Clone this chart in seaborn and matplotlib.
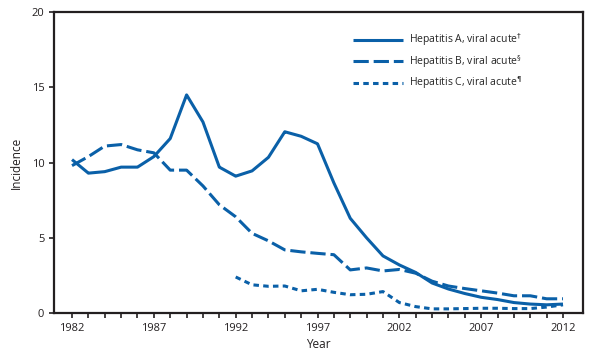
import numpy as np
import pandas as pd
import matplotlib
matplotlib.use("Agg")
import matplotlib.pyplot as plt
import seaborn as sns

# ================= DATA =================
years = list(range(1982, 2013))
hep_a = [10.2, 9.3, 9.4, 9.7, 9.7, 10.4, 11.6, 14.5, 12.7, 9.7,
         9.1, 9.45, 10.35, 12.05, 11.75, 11.25, 8.65, 6.3, 5.0, 3.8,
         3.2, 2.7, 2.0, 1.6, 1.3, 1.05, 0.9, 0.7, 0.6, 0.55, 0.6]
hep_b = [9.8, 10.4, 11.1, 11.2, 10.85, 10.65, 9.5, 9.5, 8.45, 7.2,
         6.4, 5.3, 4.8, 4.2, 4.07, 3.97, 3.88, 2.87, 3.0, 2.8,
         2.9, 2.65, 2.12, 1.8, 1.63, 1.48, 1.33, 1.15, 1.15, 0.95, 0.95]
hep_c_years = list(range(1992, 2013))
hep_c = [2.4, 1.88, 1.78, 1.8, 1.48, 1.58, 1.38, 1.22, 1.25, 1.43,
         0.7, 0.43, 0.28, 0.28, 0.3, 0.32, 0.32, 0.3, 0.3, 0.4, 0.55]

labels = ["Hepatitis A, viral acute$^{\\dagger}$",
          "Hepatitis B, viral acute$^{\\S}$",
          "Hepatitis C, viral acute$^{\\P}$"]

df = pd.concat([
    pd.DataFrame({"Year": years, "Incidence": hep_a, "Disease": labels[0]}),
    pd.DataFrame({"Year": years, "Incidence": hep_b, "Disease": labels[1]}),
    pd.DataFrame({"Year": hep_c_years, "Incidence": hep_c, "Disease": labels[2]}),
])

# ================= STYLE =================
sns.set_style("ticks")
plt.rcParams["font.family"] = ["Open Sans", "DejaVu Sans"]
plt.rcParams["mathtext.fontset"] = "dejavusans"

blue = "#0a60a8"
ink = "#231f20"
fig = plt.figure(figsize=(5.97, 3.57), dpi=100)
ax = fig.add_axes([0.0905, 0.123, 0.886, 0.843])

sns.lineplot(data=df, x="Year", y="Incidence", hue="Disease", style="Disease",
             palette=[blue, blue, blue],
             dashes=[(1, 0), (5, 1.6), (1.8, 1.4)],
             linewidth=2.2, ax=ax)

ax.set_xlim(1980.9, 2013.22)
ax.set_ylim(0, 20)
ax.set_xticks(range(1982, 2013, 5))
ax.set_xticks(range(1982, 2013), minor=True)
ax.set_yticks(range(0, 21, 5))
ax.tick_params(axis="both", which="both", direction="out", length=3.5, width=1.2,
               labelsize=8, colors=ink, labelcolor=ink)
for side in ["top", "right", "left", "bottom"]:
    ax.spines[side].set_visible(True)
    ax.spines[side].set_linewidth(1.6)
    ax.spines[side].set_color(ink)

ax.set_xlabel("Year", fontsize=8.5, color=ink, labelpad=3)
ax.set_ylabel("Incidence", fontsize=8.5, color=ink, labelpad=6)

leg = ax.legend(loc="upper left", bbox_to_anchor=(0.565, 0.935), frameon=False,
                fontsize=7.5, handlelength=4.8, handletextpad=0.6,
                labelspacing=0.45, borderpad=0, borderaxespad=0)
for line in leg.get_lines():
    line.set_linewidth(2.2)

fig.savefig("out.png", dpi=100)
